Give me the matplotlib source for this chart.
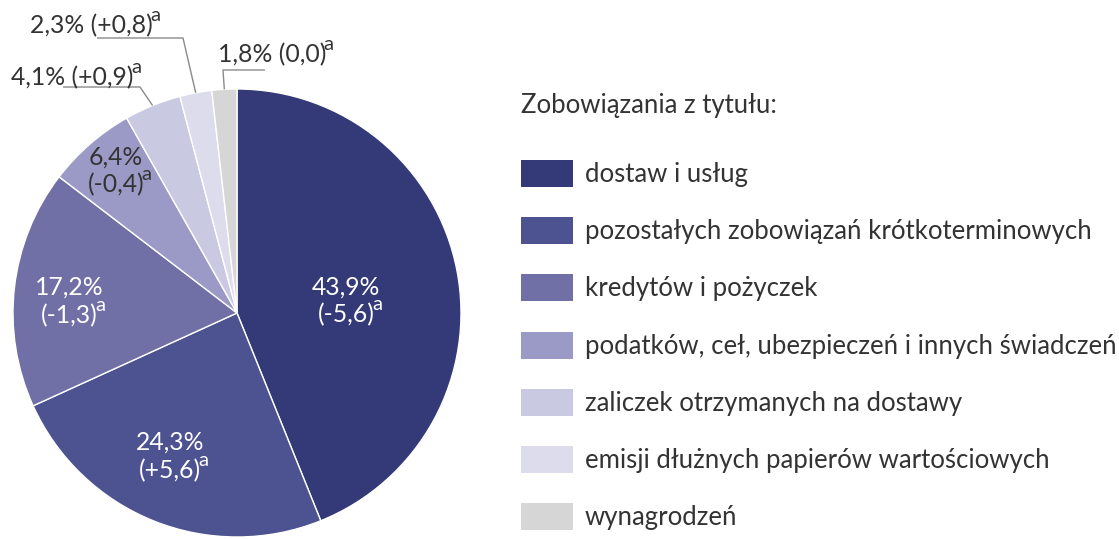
import matplotlib
matplotlib.use("Agg")
import matplotlib.pyplot as plt
import numpy as np
from matplotlib.patches import Rectangle

categories = ["dostaw i usług",
              "pozostałych zobowiązań krótkoterminowych",
              "kredytów i pożyczek",
              "podatków, ceł, ubezpieczeń i innych świadczeń",
              "zaliczek otrzymanych na dostawy",
              "emisji dłużnych papierów wartościowych",
              "wynagrodzeń"]
shares = [43.9, 24.3, 17.2, 6.4, 4.1, 2.3, 1.8]
changes = ["-5,6", "+5,6", "-1,3", "-0,4", "+0,9", "+0,8", "0,0"]
note = "a"
colors = ["#333a77", "#4d5290", "#7170a6", "#9b9ac6", "#c9c9e1", "#dcdcec", "#d5d6d5"]
legend_title = "Zobowiązania z tytułu:"

FONT = "Lato"
TXT = "#333333"
W, H = 1119, 539
fig = plt.figure(figsize=(W / 100, H / 100), dpi=100)
ax = fig.add_axes([0, 0, 1, 1])

cx, cy, R = 237, H - 313, 224
wedges, _ = ax.pie(shares, colors=colors, startangle=90, counterclock=False,
                   center=(cx, cy), radius=R,
                   wedgeprops=dict(edgecolor="white", linewidth=1.0))
ax.set_xlim(0, W)
ax.set_ylim(0, H)
ax.set_aspect("equal")
ax.axis("off")

fs_lab = 17.8
fs_leg = 18.5


def fmt(v):
    return f"{v:.1f}".replace(".", ",")


def sup(t, fs, col):
    ax.annotate(note, xy=(1.0, 0.0), xycoords=t, xytext=(-1.8, 9.5),
                textcoords="offset points", ha="left", va="bottom",
                fontsize=fs * 0.82, family=FONT, color=col)


# wedge middle angles
cum = np.cumsum([0] + shares)
mids = [90 - (cum[i] + shares[i] / 2) * 3.6 for i in range(len(shares))]

# inside labels: x centre, baseline of line 1, baseline of line 2 (pixels from top)
inside = {0: (346, 295, 322, "white"),
          1: (170, 450, 478, "white"),
          2: (69, 295, 323, "white"),
          3: (116, 165, 192, TXT)}
for i, (x, b1, b2, col) in inside.items():
    ax.text(x, H - b1, f"{fmt(shares[i])}%", ha="center", va="baseline",
            color=col, fontsize=fs_lab, family=FONT)
    t = ax.text(x, H - b2, f"({changes[i]})", ha="center", va="baseline",
                color=col, fontsize=fs_lab, family=FONT)
    sup(t, fs_lab, col)

# outside labels with leader lines: elbow, line end, text left x, text baseline
outside = {
    4: ((140, 87), (63, 87), 11, 85),
    5: ((183, 38), (97, 38), 30, 33),
    6: ((223, 70), (265, 70), 218, 62),
}
for i, (elb, end, tx, tb) in outside.items():
    a = np.deg2rad(mids[i])
    ex = cx + R * np.cos(a)
    ey = cy + R * np.sin(a)
    ax.plot([ex, elb[0], end[0]], [ey, H - elb[1], H - end[1]],
            color="#8a8a8a", lw=1.0, solid_capstyle="butt")
    t = ax.text(tx, H - tb, f"{fmt(shares[i])}% ({changes[i]})", ha="left",
                va="baseline", color=TXT, fontsize=fs_lab, family=FONT)
    sup(t, fs_lab, TXT)

# legend
ax.text(521, H - 113, legend_title, ha="left", va="baseline", fontsize=fs_leg,
        family=FONT, color=TXT)
y0, dy = 173.5, 57.2
for k, (cat, col) in enumerate(zip(categories, colors)):
    yc = y0 + k * dy
    ax.add_patch(Rectangle((521, H - yc - 13.5), 52, 27, facecolor=col, edgecolor="none"))
    ax.text(585, H - yc - 8.5, cat, ha="left", va="baseline", fontsize=fs_leg,
            family=FONT, color=TXT)

fig.savefig("out.png", dpi=100)
